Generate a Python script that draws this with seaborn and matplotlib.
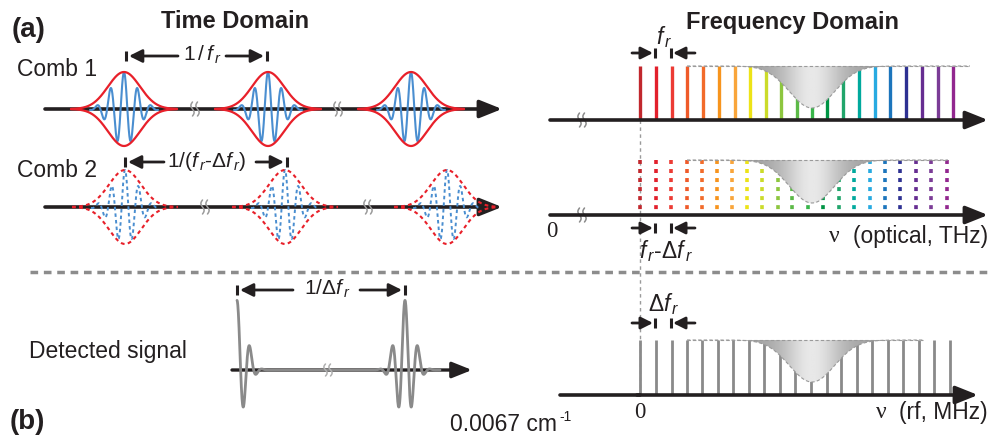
import numpy as np
import pandas as pd
import matplotlib
matplotlib.use("Agg")
import matplotlib.pyplot as plt
import seaborn as sns
from matplotlib.patches import Polygon

sns.set_theme(style="white")
plt.rcParams["font.family"] = ["Liberation Sans", "DejaVu Sans"]
plt.rcParams["mathtext.fontset"] = "custom"
plt.rcParams["mathtext.rm"] = "Liberation Sans"
plt.rcParams["mathtext.it"] = "Liberation Sans:italic"
plt.rcParams["mathtext.bf"] = "Liberation Sans:bold"

# ---------------- data (pixel units) ----------------
comb1_pulse_centers = [124, 268, 411]
comb2_pulse_centers = [125, 285, 447]
comb1_breaks = [195, 338]
comb2_breaks = [205, 368]
comb1_axis_y = 109
comb2_axis_y = 207
pulse_peak = 37
envelope_sigma = 16
carrier_sigma = 12.5
carrier_period = 13.5

comb_colors = ["#c1272d", "#e2202c", "#ec3b34", "#ef5a29", "#f26b2a", "#f7941d",
               "#f9a53a", "#ede317", "#cbdb2a", "#8dc63f", "#5cb947", "#39b54a",
               "#009444", "#21a56b", "#00a99d", "#27aae1", "#1c75bc", "#2e3192",
               "#662d91", "#7b3c96", "#92278f"]
optical1_lines = [640, 656, 672, 687, 703, 719, 735, 750, 766, 781, 797, 812,
                  827, 843, 859, 875, 890, 906, 922, 938, 953]
optical2_lines = [640, 656, 671, 687, 702, 717, 732, 747, 762, 778, 792, 808,
                  823, 839, 854, 870, 885, 900, 916, 931, 947]
rf_lines = [640, 656, 672, 687, 702, 718, 733, 749, 764, 780, 795, 811,
            827, 841, 857, 872, 888, 903, 919, 934, 950]
optical1_top, optical1_axis = 66, 120
optical2_top, optical2_axis = 160, 215
rf_top, rf_axis = 340, 395

absorption_center = 812
absorption_width = 32
absorption_tops = [66, 160, 340]
absorption_depths = [42, 43, 42]
absorption_ranges = [(687, 970), (687, 948), (687, 923)]

signal_axis_y = 370
signal_pulse_centers = [237, 405]
signal_amp = 59
signal_offset = 0.18
signal_sigma = 8.7
signal_period = 13

BLACK = "#231f20"
GREY = "#8a8a8a"
LABEL = 16.5
TITLE = 17

fig = plt.figure(figsize=(9.93, 4.36), dpi=100)
ax = fig.add_axes([0, 0, 1, 1])
ax.set_xlim(0, 993)
ax.set_ylim(436, 0)
ax.axis("off")


def arrow(x0, y0, x1, y1, lw=2.0, ms=14, hl=0.6, hw=0.3, color=BLACK, z=3):
    ax.annotate("", xy=(x1, y1), xytext=(x0, y0),
                arrowprops=dict(arrowstyle=f"-|>,head_length={hl},head_width={hw}",
                                lw=lw, color=color, shrinkA=0, shrinkB=0,
                                mutation_scale=ms), zorder=z)


def tick(x, y, h=5, lw=2.2, color=BLACK):
    ax.plot([x, x], [y - h, y + h], color=color, lw=lw, solid_capstyle="butt", zorder=4)


def brk(x, y, h=7, color="#9a9a9a"):
    t = np.linspace(-1, 1, 40)
    for off in (-2.5, 2.5):
        ax.plot(x + off + 1.6 * np.sin(np.pi * t), y + h * t, color=color, lw=1.1, zorder=5)


def pulse(c, xmax=None):
    hi = c + 53 if xmax is None else min(c + 53, xmax)
    xe = np.linspace(c - 53, hi, 400)
    env = pulse_peak * np.exp(-0.5 * ((xe - c) / envelope_sigma) ** 2)
    xc = np.linspace(c - 34, c + 34, 500)
    car = (pulse_peak * np.exp(-0.5 * ((xc - c) / carrier_sigma) ** 2)
           * np.cos(2 * np.pi * (xc - c) / carrier_period))
    return xe, env, xc, car


# ---------------- time domain ----------------
for axis_y, brks in ((comb1_axis_y, comb1_breaks), (comb2_axis_y, comb2_breaks)):
    arrow(45, axis_y, 502, axis_y, lw=2.6, ms=18, hl=0.75, hw=0.3, z=2)
    for b in brks:
        brk(b, axis_y)

for c in comb1_pulse_centers:
    xe, env, xc, car = pulse(c)
    sns.lineplot(x=xc, y=comb1_axis_y - car, ax=ax, color="#4a8ed0", lw=1.5, zorder=3)
    sns.lineplot(x=xe, y=comb1_axis_y - env, ax=ax, color="#e8202a", lw=1.6, zorder=4)
    sns.lineplot(x=xe, y=comb1_axis_y + env, ax=ax, color="#e8202a", lw=1.6, zorder=4)

for c in comb2_pulse_centers:
    xe, env, xc, car = pulse(c, 496)
    ax.plot(xc, comb2_axis_y - car, color="#4a8ed0", lw=1.4, ls=(0, (1.8, 1.6)), zorder=3)
    ax.plot(xe, comb2_axis_y - env, color="#e8202a", lw=1.5, ls=(0, (1.8, 1.6)), zorder=4)
    ax.plot(xe, comb2_axis_y + env, color="#e8202a", lw=1.5, ls=(0, (1.8, 1.6)), zorder=4)

# annotations time domain
tick(126, 56); tick(267, 56)
arrow(178, 56, 129, 56, lw=2.0, ms=13)
arrow(226, 56, 264, 56, lw=2.0, ms=13)
ax.text(202, 55, r"$1\,/\,f_{\,r}$", fontsize=15, ha="center", va="center", color=BLACK)

tick(125, 162); tick(287, 162)
arrow(164, 162, 128, 162, lw=2.0, ms=13)
arrow(256, 162, 284, 162, lw=2.0, ms=13)
ax.text(207, 161, r"$1/(f_{\,r}\text{-}\Delta f_{\,r})$", fontsize=15, ha="center", va="center", color=BLACK)

ax.text(12, 30, "(a)", fontsize=20, fontweight="bold", ha="left", va="center", color=BLACK)
ax.text(235, 22, "Time Domain", fontsize=TITLE, fontweight="bold", ha="center", va="center", color=BLACK)
ax.text(17, 70, "Comb 1", fontsize=LABEL, ha="left", va="center", color=BLACK)
ax.text(17, 170, "Comb 2", fontsize=LABEL, ha="left", va="center", color=BLACK)

# ---------------- frequency domain ----------------
ax.text(793, 22, "Frequency Domain", fontsize=TITLE, fontweight="bold", ha="center", va="center", color=BLACK)

for axis_y in (optical1_axis, optical2_axis):
    arrow(550, axis_y, 988, axis_y, lw=2.6, ms=18, hl=0.75, hw=0.3, z=6)
    brk(582, axis_y, color="#8a8a8a")

for x, col in zip(optical1_lines, comb_colors):
    ax.plot([x, x], [optical1_top, optical1_axis], color=col, lw=2.4, solid_capstyle="butt", zorder=2)
for x, col in zip(optical2_lines, comb_colors):
    ax.plot([x, x], [optical2_top, optical2_axis], color=col, lw=2.6, ls=(0, (1.1, 1.4)), zorder=2)

arrow(560, rf_axis, 978, rf_axis, lw=2.6, ms=18, hl=0.75, hw=0.3, z=6)
ax.plot([637, 640], [rf_axis, rf_axis], color=BLACK, lw=2.6, zorder=6)
for x in rf_lines:
    ax.plot([x, x], [rf_top, rf_axis], color=GREY, lw=2.0, solid_capstyle="butt", zorder=2)

# absorption shapes
for top, depth, (x0, x1) in zip(absorption_tops, absorption_depths, absorption_ranges):
    xs = np.linspace(x0, x1, 300)
    bottom = top + depth * np.exp(-((xs - absorption_center) / absorption_width) ** 2)
    verts = np.column_stack([np.concatenate([xs, xs[::-1]]),
                             np.concatenate([np.full_like(xs, top), bottom[::-1]])])
    poly = Polygon(verts, closed=True, facecolor="none", edgecolor="none")
    ax.add_patch(poly)
    gx = np.linspace(x0, x1, 300)
    grad = 0.64 + 0.27 * np.exp(-((gx - absorption_center) / 30) ** 2)
    im = ax.imshow(grad[None, :], cmap="gray", vmin=0, vmax=1, aspect="auto",
                   extent=(x0, x1, top + depth + 1, top), zorder=3, interpolation="bilinear")
    im.set_clip_path(poly)
    ax.plot(xs, bottom, color="#9a9a9a", lw=0.8, ls=(0, (3, 2)), zorder=4)
    ax.plot([x0, x1], [top, top], color="#9a9a9a", lw=0.8, ls=(0, (3, 2)), zorder=4)

ax.set_xlim(0, 993)
ax.set_ylim(436, 0)

# vertical dashed guide
ax.plot([640, 640], [optical1_axis, rf_axis], color="#9a9a9a", lw=1.0, ls=(0, (2.5, 2.5)), zorder=1)

# freq annotations
def spacing_marks(y):
    arrow(632, y, 653, y, lw=2.0, ms=12)
    tick(655, y)
    tick(671, y)
    arrow(695, y, 673, y, lw=2.0, ms=12)

spacing_marks(53)
spacing_marks(228)
spacing_marks(323)
ax.text(664, 37, r"$f_{\,r}$", fontsize=LABEL, ha="center", va="center", color=BLACK)
ax.text(666, 251, r"$f_{\,r}\text{-}\Delta f_{\,r}$", fontsize=LABEL, ha="center", va="center", color=BLACK)
ax.text(664, 304, r"$\Delta f_{\,r}$", fontsize=LABEL, ha="center", va="center", color=BLACK)

ax.text(552, 231, "0", fontsize=LABEL, family="Liberation Serif", ha="center", va="center", color=BLACK)
ax.text(640, 412, "0", fontsize=LABEL, family="Liberation Serif", ha="center", va="center", color=BLACK)
ax.text(829, 236, "ν", fontsize=17, family="Liberation Serif", ha="left", va="center", color=BLACK)
ax.text(988, 236, "(optical, THz)", fontsize=LABEL, ha="right", va="center", color=BLACK)
ax.text(876, 412, "ν", fontsize=17, family="Liberation Serif", ha="left", va="center", color=BLACK)
ax.text(988, 412, "(rf, MHz)", fontsize=LABEL, ha="right", va="center", color=BLACK)

# separator
ax.plot([30, 993], [272, 272], color="#8c8c8c", lw=2.5, ls=(0, (2.2, 1.65)), zorder=1)

# ---------------- detected signal ----------------
arrow(232, signal_axis_y, 472, signal_axis_y, lw=2.4, ms=16, hl=0.75, hw=0.3, z=2)
xs = np.linspace(237, 440, 1500)
sig = np.zeros_like(xs)
for c in signal_pulse_centers:
    dx = xs - c
    sig += signal_amp * np.exp(-0.5 * (dx / signal_sigma) ** 2) * (np.cos(2 * np.pi * dx / signal_period) + signal_offset)
sns.lineplot(x=xs, y=signal_axis_y - sig, ax=ax, color=GREY, lw=2.0, zorder=3)
brk(328, signal_axis_y, h=6, color="#b0b0b0")

tick(237, 290); tick(405, 290)
arrow(293, 290, 240, 290, lw=2.0, ms=13)
arrow(360, 290, 402, 290, lw=2.0, ms=13)
ax.text(327, 289, r"$1/\Delta f_{\,r}$", fontsize=15, ha="center", va="center", color=BLACK)

ax.text(29, 351, "Detected signal", fontsize=LABEL, ha="left", va="center", color=BLACK)
ax.text(10, 422, "(b)", fontsize=20, fontweight="bold", ha="left", va="center", color=BLACK)
ax.text(450, 424, "0.0067 cm", fontsize=LABEL, ha="left", va="center", color=BLACK)
ax.text(559, 417, "-1", fontsize=10, ha="left", va="center", color=BLACK)

fig.savefig("out.png", dpi=100)
